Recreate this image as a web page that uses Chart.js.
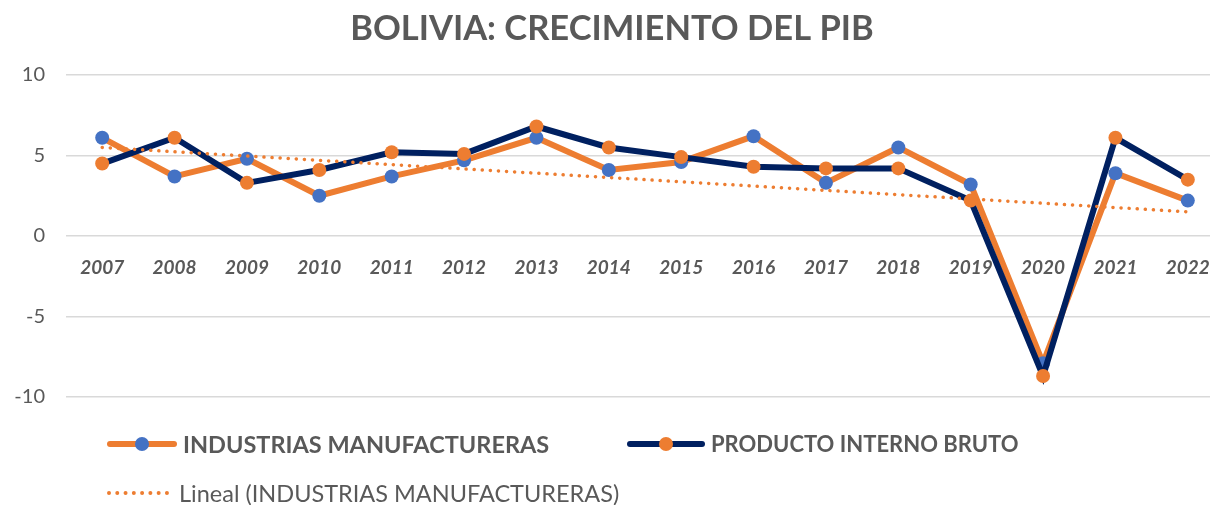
<!DOCTYPE html>
<html>
<head>
<meta charset="utf-8">
<script src="https://cdn.jsdelivr.net/npm/chart.js@4.4.1/dist/chart.umd.min.js"></script>
<style>
  html, body { margin: 0; padding: 0; background: #fff; overflow: hidden; }
  #wrap { position: relative; width: 1210px; height: 505px; overflow: hidden; }
  canvas { position: absolute; left: 0; top: 0; }
  .leg { position: absolute; font-family: Lato, "Open Sans", sans-serif; color: #595959; font-size: 23px; white-space: nowrap; display: flex; align-items: center; }
  .sym { position: relative; width: 70px; height: 14px; margin-right: 6px; }
  .sym .ln { position: absolute; left: 0; right: 0; top: 4px; height: 6px; border-radius: 3px; }
  .sym .dot { position: absolute; left: 28px; top: 0; width: 14px; height: 14px; border-radius: 7px; }
  .sym .dots { position: absolute; left: 0; right: 0; top: 5px; height: 0; border-top: 4px dotted #ED7D31; }
</style>
</head>
<body>
<div id="wrap">
  <canvas id="c" width="1236" height="505" style="width:1236px;height:505px"></canvas>
  <div class="leg" style="left:107px; top:430px; font-weight:bold; font-size:23.5px;">
    <div class="sym"><div class="ln" style="background:#ED7D31"></div><div class="dot" style="background:#4472C4"></div></div>
    <span>INDUSTRIAS MANUFACTURERAS</span>
  </div>
  <div class="leg" style="left:627px; top:430px; font-weight:bold; font-size:22px;">
    <div class="sym" style="width:78px"><div class="ln" style="background:#002060"></div><div class="dot" style="left:32px;background:#ED7D31"></div></div>
    <span>PRODUCTO INTERNO BRUTO</span>
  </div>
  <div class="leg" style="left:107px; top:479px; font-size:23.5px;">
    <div class="sym" style="width:62px; margin-right:10px"><div class="dots"></div></div>
    <span>Lineal (INDUSTRIAS MANUFACTURERAS)</span>
  </div>
</div>
<script>
const years = ['2007','2008','2009','2010','2011','2012','2013','2014','2015','2016','2017','2018','2019','2020','2021','2022'];
const industrias = [6.1, 3.7, 4.8, 2.5, 3.7, 4.7, 6.1, 4.1, 4.6, 6.2, 3.3, 5.5, 3.2, -7.9, 3.9, 2.2];
const pib = [4.5, 6.1, 3.3, 4.1, 5.2, 5.1, 6.8, 5.5, 4.9, 4.3, 4.2, 4.2, 2.2, -8.7, 6.1, 3.5];
const tendencia = [5.5, null, null, null, null, null, null, null, null, null, null, null, null, null, null, 1.5];
const yTicks = [-10, -5, 0, 5, 10];

const grey = '#595959';
new Chart(document.getElementById('c'), {
  type: 'line',
  data: {
    labels: years,
    datasets: [
      {
        label: 'PRODUCTO INTERNO BRUTO',
        data: pib,
        borderColor: '#002060',
        backgroundColor: '#ED7D31',
        pointBackgroundColor: '#ED7D31',
        pointBorderColor: '#ED7D31',
        borderWidth: 6,
        pointRadius: 7,
        pointBorderWidth: 0,
        tension: 0,
        order: 1
      },
      {
        label: 'INDUSTRIAS MANUFACTURERAS',
        data: industrias,
        borderColor: '#ED7D31',
        backgroundColor: '#4472C4',
        pointBackgroundColor: '#4472C4',
        pointBorderColor: '#4472C4',
        borderWidth: 6,
        pointRadius: 7,
        pointBorderWidth: 0,
        tension: 0,
        order: 2
      },
      {
        label: 'Lineal (INDUSTRIAS MANUFACTURERAS)',
        data: tendencia,
        borderColor: '#ED7D31',
        borderWidth: 3.5,
        borderDash: [0.1, 8],
        borderCapStyle: 'round',
        pointRadius: 0,
        spanGaps: true,
        order: 0
      }
    ]
  },
  options: {
    responsive: false,
    animation: false,
    layout: { padding: { left: 0, right: 12, top: 0, bottom: 108 } },
    plugins: {
      legend: { display: false },
      tooltip: { enabled: false },
      title: {
        display: true,
        text: 'BOLIVIA: CRECIMIENTO DEL PIB',
        color: grey,
        font: { family: 'Lato', size: 34.5, weight: 'bold', lineHeight: 1.2 },
        padding: { top: 8, bottom: 25.6 }
      }
    },
    scales: {
      x: {
        offset: true,
        position: { y: 0 },
        grid: { display: false, drawTicks: false, tickLength: 0, offset: true },
        border: { display: false },
        ticks: {
          color: grey,
          padding: 20,
          maxRotation: 0,
          autoSkip: false,
          font: { family: 'Lato', size: 19, weight: 'bold', style: 'italic' }
        },
        afterFit: (s) => { s.height = 0; s.paddingLeft = 0; s.paddingRight = 0; }
      },
      y: {
        min: -10,
        max: 10,
        afterBuildTicks: (s) => { s.ticks = yTicks.map(v => ({ value: v })); },
        grid: { color: '#D9D9D9', lineWidth: 1.5, drawTicks: false, tickLength: 0 },
        border: { display: false },
        ticks: {
          color: grey,
          padding: 21,
          font: { family: 'Lato', size: 20 }
        },
        afterFit: (s) => { s.width = 66; }
      }
    }
  }
});
</script>
</body>
</html>
